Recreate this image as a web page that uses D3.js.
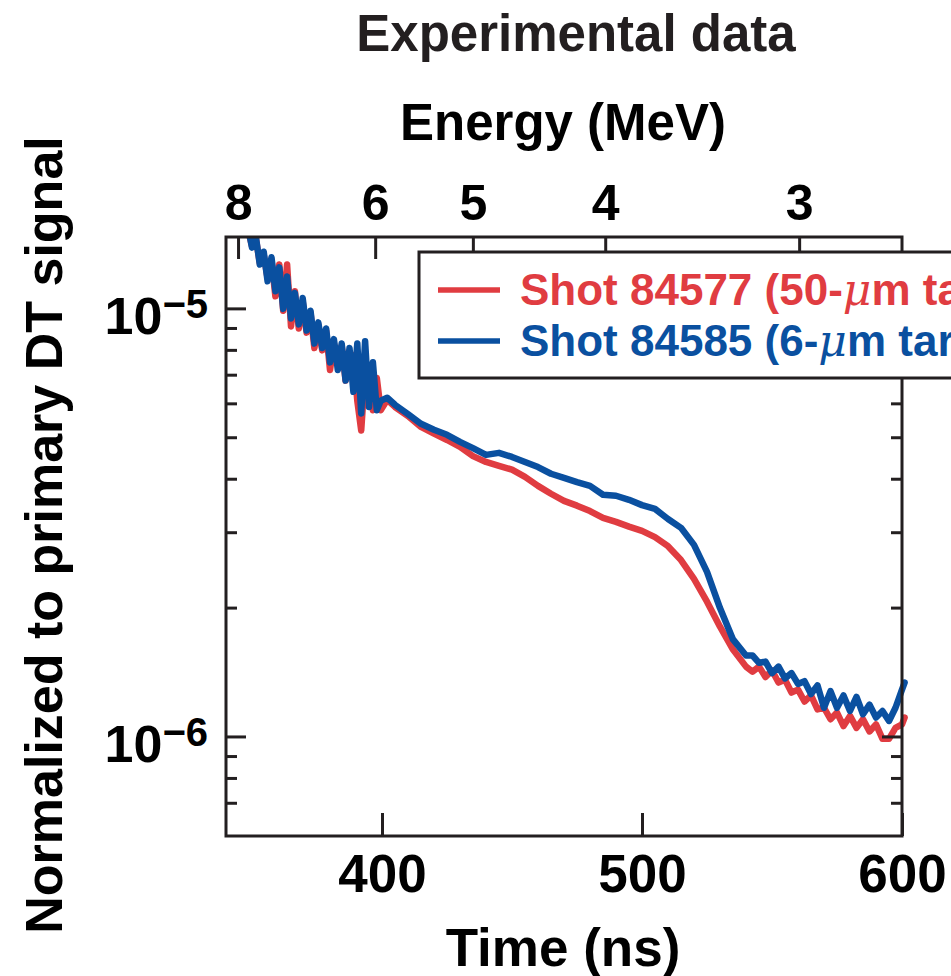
<!DOCTYPE html>
<html>
<head>
<meta charset="utf-8">
<script src="https://cdn.jsdelivr.net/npm/d3@7"></script>
<style>
  html, body { margin: 0; padding: 0; background: #fff; overflow: hidden; }
  svg { display: block; font-family: "Liberation Sans", Arial, Helvetica, sans-serif; font-weight: bold; }
</style>
</head>
<body>
<svg id="plot" width="951" height="976"></svg>
<script>
// time samples (ns), shared by both shots
const timeNs = [
  347, 348.5, 350, 351.5, 353, 354.5, 356, 357.5, 359, 360.5, 362, 363.5,
  365, 366.5, 368, 369.5, 371, 372.5, 374, 375.5, 377, 378.5, 380, 381.5,
  383, 384.5, 386, 387.5, 389, 390.5, 392, 393.5, 395, 396.5, 398, 399.5,
  402, 405, 410, 415, 420, 425, 430, 435, 440, 445, 450, 455, 460, 465,
  470, 475, 480, 485, 490, 495, 500, 505, 510, 515, 520, 525, 530, 535,
  540, 542.5, 545, 547.5, 550, 552.5, 555, 557.5, 560, 562.5, 565, 567.5,
  570, 572.5, 575, 577.5, 580, 582.5, 585, 587.5, 590, 592.5, 595, 597.5, 600, 601
];

// Shot 84577 (50-um target)
const shot84577 = [
  1.53e-5, 1.53e-5, 1.40e-5, 1.46e-5, 1.28e-5, 1.34e-5, 1.18e-5, 1.30e-5, 1.07e-5, 1.27e-5, 9.9e-6, 1.27e-5,
  9.1e-6, 1.10e-5, 9.0e-6, 1.04e-5, 8.8e-6, 9.8e-6, 8.1e-6, 9.2e-6, 8.0e-6, 8.9e-6, 7.2e-6, 8.3e-6,
  7.4e-6, 8.2e-6, 6.8e-6, 7.2e-6, 7.8e-6, 6.1e-6, 5.2e-6, 7.1e-6, 6.9e-6, 5.8e-6, 6.9e-6, 5.8e-6,
  6.13e-6, 5.90e-6, 5.62e-6, 5.30e-6, 5.11e-6, 4.94e-6, 4.76e-6, 4.53e-6, 4.39e-6, 4.30e-6, 4.21e-6, 4.05e-6, 3.86e-6, 3.70e-6,
  3.56e-6, 3.47e-6, 3.37e-6, 3.25e-6, 3.18e-6, 3.10e-6, 3.03e-6, 2.93e-6, 2.79e-6, 2.59e-6, 2.34e-6, 2.07e-6, 1.81e-6, 1.60e-6,
  1.46e-6, 1.42e-6, 1.46e-6, 1.38e-6, 1.43e-6, 1.34e-6, 1.36e-6, 1.27e-6, 1.29e-6, 1.21e-6, 1.25e-6, 1.16e-6,
  1.17e-6, 1.10e-6, 1.14e-6, 1.06e-6, 1.12e-6, 1.05e-6, 1.10e-6, 1.03e-6, 1.07e-6, 9.9e-7, 9.9e-7, 1.05e-6, 1.07e-6, 1.11e-6
];

// Shot 84585 (6-um target)
const shot84585 = [
  1.51e-5, 1.55e-5, 1.39e-5, 1.47e-5, 1.27e-5, 1.36e-5, 1.16e-5, 1.32e-5, 1.10e-5, 1.25e-5, 1.00e-5, 1.19e-5,
  9.5e-6, 1.09e-5, 9.2e-6, 1.06e-5, 8.9e-6, 9.9e-6, 8.3e-6, 9.3e-6, 8.1e-6, 9.0e-6, 7.5e-6, 8.5e-6,
  7.2e-6, 8.3e-6, 6.8e-6, 8.1e-6, 6.4e-6, 8.3e-6, 5.7e-6, 8.4e-6, 5.9e-6, 7.5e-6, 5.8e-6, 6.1e-6,
  6.20e-6, 5.97e-6, 5.68e-6, 5.39e-6, 5.22e-6, 5.08e-6, 4.89e-6, 4.73e-6, 4.56e-6, 4.61e-6, 4.51e-6, 4.39e-6, 4.27e-6, 4.12e-6,
  4.03e-6, 3.94e-6, 3.86e-6, 3.68e-6, 3.66e-6, 3.58e-6, 3.48e-6, 3.41e-6, 3.23e-6, 3.08e-6, 2.81e-6, 2.43e-6, 2.00e-6, 1.69e-6,
  1.55e-6, 1.55e-6, 1.49e-6, 1.50e-6, 1.41e-6, 1.46e-6, 1.37e-6, 1.41e-6, 1.33e-6, 1.35e-6, 1.26e-6, 1.32e-6,
  1.17e-6, 1.28e-6, 1.17e-6, 1.25e-6, 1.15e-6, 1.24e-6, 1.13e-6, 1.19e-6, 1.11e-6, 1.15e-6, 1.09e-6, 1.17e-6, 1.29e-6, 1.34e-6
];

const timeTicks = [400, 500, 600];
const energyTicks = [8, 6, 5, 4, 3];       // MeV, top axis
const majorY = [1e-5, 1e-6];
const minorY = [2e-6, 3e-6, 4e-6, 5e-6, 6e-6, 7e-6, 8e-6, 9e-6, 7e-7, 8e-7, 9e-7];

// time of flight for a given energy
const tofOffset = 3.7, tofScale = 964.3;
const energyToTime = e => tofOffset + tofScale / Math.sqrt(e);

const RED = "#e03c41", BLUE = "#0a50a0", INK = "#231f20";

const svg = d3.select("#plot");
const x0 = 226, x1 = 902, y0 = 237, y1 = 836;

const x = d3.scaleLinear().domain([340, 600]).range([x0, x1]);
const y = d3.scaleLog().domain([5.87e-7, 1.472e-5]).range([y1, y0]);

// clip for the traces
svg.append("clipPath").attr("id", "clip")
  .append("rect").attr("x", x0).attr("y", y0).attr("width", x1 - x0 + 6).attr("height", y1 - y0);

const line = d3.line().x(d => x(d[0])).y(d => y(d[1]));

const series = [
  { name: "84577", vals: shot84577, color: RED },
  { name: "84585", vals: shot84585, color: BLUE }
];

const traces = svg.append("g").attr("clip-path", "url(#clip)");
series.forEach(s => {
  traces.append("path")
    .datum(timeNs.map((t, i) => [t, s.vals[i]]))
    .attr("fill", "none")
    .attr("stroke", s.color)
    .attr("stroke-width", 6.5)
    .attr("stroke-linejoin", "round")
    .attr("stroke-linecap", "round")
    .attr("d", line);
});

// frame
svg.append("rect")
  .attr("x", x0).attr("y", y0)
  .attr("width", x1 - x0).attr("height", y1 - y0)
  .attr("fill", "none").attr("stroke", INK).attr("stroke-width", 3);

// bottom axis
const xAxis = svg.append("g")
  .attr("transform", `translate(0,${y1})`)
  .call(d3.axisBottom(x).tickValues(timeTicks).tickSize(-23).tickPadding(18).tickFormat(d3.format("d")));
xAxis.select(".domain").remove();
xAxis.selectAll("line").attr("stroke", INK).attr("stroke-width", 3);
xAxis.selectAll("text").attr("font-size", 53).attr("fill", "#000").attr("font-family", null);

// top axis (energy)
const tAxis = svg.append("g")
  .attr("transform", `translate(0,${y0})`)
  .call(d3.axisTop(x).tickValues(energyTicks.map(energyToTime)).tickSize(-22).tickPadding(17)
    .tickFormat((d, i) => energyTicks[i]));
tAxis.select(".domain").remove();
tAxis.selectAll("line").attr("stroke", INK).attr("stroke-width", 3);
tAxis.selectAll("text").attr("font-size", 50).attr("fill", "#000").attr("font-family", null);

// left and right log axes
[[x0, 1], [x1, -1]].forEach(([xpos, dir]) => {
  const g = svg.append("g");
  g.selectAll("line.major").data(majorY).join("line").attr("class", "major")
    .attr("x1", xpos).attr("x2", xpos + dir * 20)
    .attr("y1", d => y(d)).attr("y2", d => y(d))
    .attr("stroke", INK).attr("stroke-width", 3);
  g.selectAll("line.minor").data(minorY).join("line").attr("class", "minor")
    .attr("x1", xpos).attr("x2", xpos + dir * 11)
    .attr("y1", d => y(d)).attr("y2", d => y(d))
    .attr("stroke", INK).attr("stroke-width", 3);
});

// y tick labels 10^-5, 10^-6
const yl = svg.append("g").selectAll("text").data(majorY).join("text")
  .attr("x", 208).attr("y", d => y(d) + 25)
  .attr("text-anchor", "end").attr("fill", "#000").attr("font-size", 52);
yl.append("tspan").text("10");
yl.append("tspan").attr("font-size", 40).attr("dy", -16)
  .text(d => "\u2212" + Math.round(-Math.log10(d)));

// titles
svg.append("text").attr("x", 576).attr("y", 51).attr("text-anchor", "middle")
  .attr("font-size", 51).attr("fill", INK).text("Experimental data");
svg.append("text").attr("x", 563).attr("y", 140).attr("text-anchor", "middle")
  .attr("font-size", 51).attr("fill", "#000").text("Energy (MeV)");
svg.append("text").attr("x", 563).attr("y", 966).attr("text-anchor", "middle")
  .attr("font-size", 53).attr("fill", "#000").text("Time (ns)");
svg.append("text").attr("transform", "translate(62,535) rotate(-90)").attr("text-anchor", "middle")
  .attr("font-size", 52).attr("fill", "#000").text("Normalized to primary DT signal");

// legend (runs off the right edge, as in the original figure)
const lg = svg.append("g");
lg.append("rect").attr("x", 419).attr("y", 252).attr("width", 600).attr("height", 126)
  .attr("fill", "#fff").attr("stroke", INK).attr("stroke-width", 3);
const legendItems = [
  { color: RED, label: "Shot 84577 (50-", rest: "m target)", y: 290 },
  { color: BLUE, label: "Shot 84585 (6-", rest: "m target)", y: 341 }
];
legendItems.forEach(it => {
  lg.append("line").attr("x1", 438).attr("x2", 500).attr("y1", it.y).attr("y2", it.y)
    .attr("stroke", it.color).attr("stroke-width", 5.5);
  const t = lg.append("text").attr("x", 520).attr("y", it.y + 15)
    .attr("font-size", 44).attr("fill", it.color);
  t.append("tspan").text(it.label);
  t.append("tspan").attr("font-style", "italic").attr("font-family", "DejaVu Serif").attr("font-weight", "normal").text("\u03bc");
  t.append("tspan").text(it.rest);
});
</script>
</body>
</html>
